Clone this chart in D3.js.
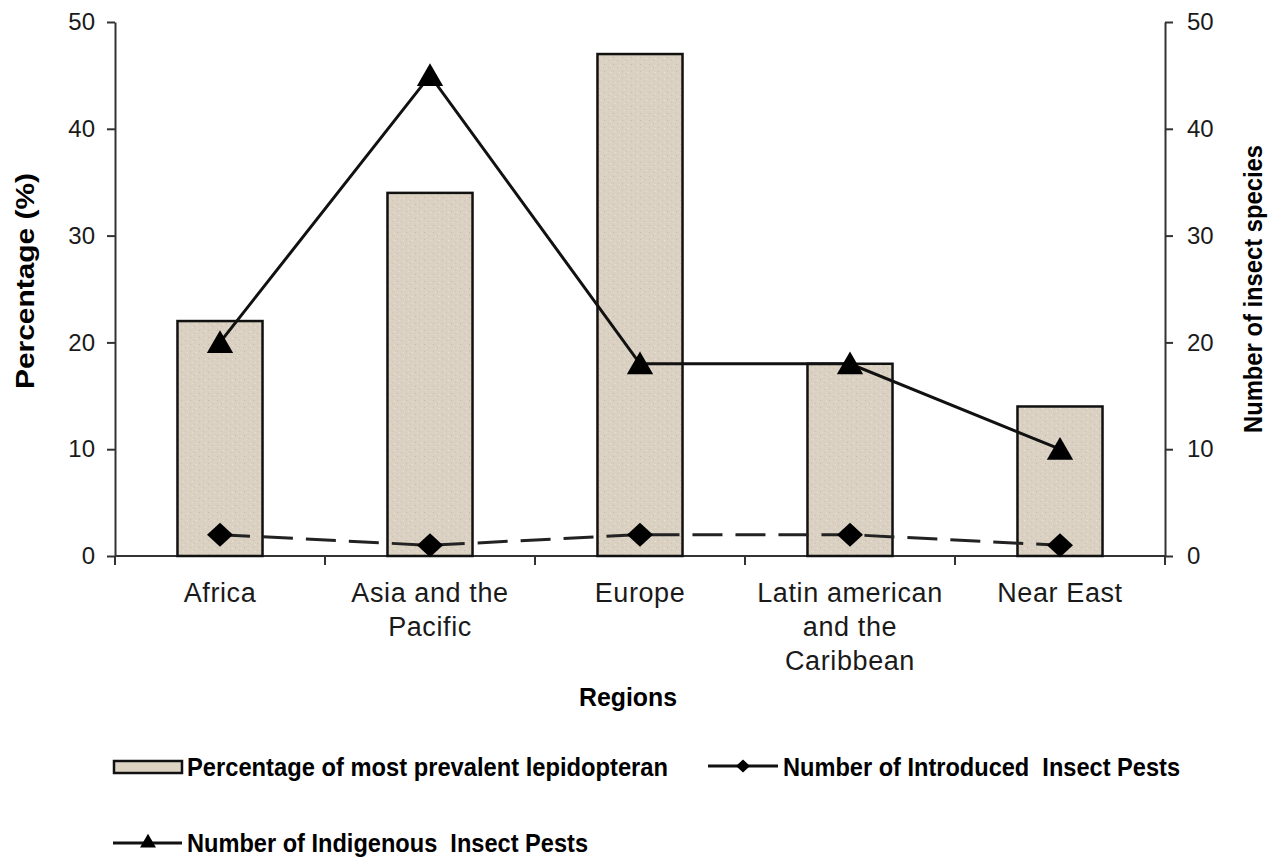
<!DOCTYPE html>
<meta charset="utf-8">
<style>
body { margin: 0; background: #fff; }
svg { display: block; font-family: "Liberation Sans", Arial, sans-serif; }
.tick text { fill: #1a1a1a; font-size: 24px; }
.axis path, .axis line { stroke: #333; stroke-width: 2px; }
.cat { fill: #1a1a1a; font-size: 27px; letter-spacing: 0.6px; }
.title { fill: #000; font-weight: bold; font-size: 25px; white-space: pre; }
.bar { stroke: #111; stroke-width: 2.5px; }
.line-ind { fill: none; stroke: #111; stroke-width: 3px; }
.line-intro { fill: none; stroke: #222; stroke-width: 3px; stroke-dasharray: 30 13; }
</style>
<svg width="1272" height="857"></svg>
<script src="https://d3js.org/d3.v7.min.js"></script>
<script>

var regions = ["Africa", "Asia and the Pacific", "Europe", "Latin american and the Caribbean", "Near East"];
var regionLines = [["Africa"], ["Asia and the", "Pacific"], ["Europe"], ["Latin american", "and the", "Caribbean"], ["Near East"]];
var percentLepidopteran = [22, 34, 47, 18, 14];
var introducedPests = [2, 1, 2, 2, 1];
var indigenousPests = [20, 45, 18, 18, 10];
var yTicks = [0, 10, 20, 30, 40, 50];

var svg = d3.select("svg"),
    plotLeft = 115, plotRight = 1165, plotTop = 22, plotBottom = 556;

var x = d3.scaleBand().domain(regions).range([plotLeft, plotRight]).padding(0),
    y = d3.scaleLinear().domain([0, 50]).range([plotBottom, plotTop]),
    y2 = d3.scaleLinear().domain([0, 50]).range([plotBottom, plotTop]);

// bar texture
var defs = svg.append("defs");
var pat = defs.append("pattern")
    .attr("id", "grain")
    .attr("patternUnits", "userSpaceOnUse")
    .attr("width", 9).attr("height", 7);
pat.append("rect").attr("width", 9).attr("height", 7).attr("fill", "#dad1c2");
pat.append("rect").attr("x", 1).attr("y", 1).attr("width", 1).attr("height", 1).attr("fill", "#c7bcab");
pat.append("rect").attr("x", 5).attr("y", 4).attr("width", 1).attr("height", 1).attr("fill", "#cdc3b3");
pat.append("rect").attr("x", 7).attr("y", 2).attr("width", 1).attr("height", 1).attr("fill", "#e9e3d8");
pat.append("rect").attr("x", 3).attr("y", 5).attr("width", 1).attr("height", 1).attr("fill", "#e6dfd3");

// left axis
svg.append("g")
    .attr("class", "axis")
    .attr("transform", "translate(" + plotLeft + ",0)")
    .call(d3.axisLeft(y).tickValues(yTicks).tickSize(8).tickSizeOuter(0).tickPadding(12));

// right axis
svg.append("g")
    .attr("class", "axis")
    .attr("transform", "translate(" + plotRight + ",0)")
    .call(d3.axisRight(y2).tickValues(yTicks).tickSize(8).tickSizeOuter(0).tickPadding(14));

// bottom axis
var xAxis = svg.append("g").attr("class", "axis");
xAxis.append("path").attr("d", "M" + plotLeft + "," + plotBottom + "H" + plotRight);
xAxis.selectAll(".xt")
    .data(regions.concat([null]))
  .enter().append("line")
    .attr("x1", function(d) { return d === null ? plotRight : x(d); })
    .attr("x2", function(d) { return d === null ? plotRight : x(d); })
    .attr("y1", plotBottom).attr("y2", plotBottom + 9);

svg.selectAll(".cat")
    .data(regionLines)
  .enter().append("text")
    .attr("class", "cat")
    .attr("text-anchor", "middle")
    .attr("x", function(d, i) { return x(regions[i]) + x.bandwidth() / 2; })
    .attr("y", 602)
    .selectAll("tspan")
    .data(function(d) { return d; })
  .enter().append("tspan")
    .attr("x", function() { return d3.select(this.parentNode).attr("x"); })
    .attr("dy", function(d, i) { return i === 0 ? 0 : 34; })
    .text(function(d) { return d; });

// bars
var bw = x.bandwidth() * 0.405;
svg.selectAll(".bar")
    .data(percentLepidopteran)
  .enter().append("rect")
    .attr("class", "bar")
    .attr("fill", "url(#grain)")
    .attr("x", function(d, i) { return x(regions[i]) + (x.bandwidth() - bw) / 2; })
    .attr("y", function(d) { return y(d); })
    .attr("width", bw)
    .attr("height", function(d) { return plotBottom - y(d); });

var cx = function(d, i) { return x(regions[i]) + x.bandwidth() / 2; };

// lines
var line = d3.line().x(cx).y(function(d) { return y2(d); });

svg.append("path").datum(introducedPests).attr("class", "line-intro").attr("d", line);
svg.append("path").datum(indigenousPests).attr("class", "line-ind").attr("d", line);

function diamond(w, h) {
  return "M0," + (-h / 2) + "L" + (w / 2) + ",0L0," + (h / 2) + "L" + (-w / 2) + ",0Z";
}
var triangle = d3.symbol().type(d3.symbolTriangle);

svg.selectAll(".dia")
    .data(introducedPests)
  .enter().append("path")
    .attr("transform", function(d, i) { return "translate(" + cx(d, i) + "," + y2(d) + ")"; })
    .attr("d", diamond(26, 24))
    .attr("fill", "#000");

svg.selectAll(".tri")
    .data(indigenousPests)
  .enter().append("path")
    .attr("transform", function(d, i) { return "translate(" + cx(d, i) + "," + (y2(d) + 3) + ")"; })
    .attr("d", triangle.size(300)())
    .attr("fill", "#000");

// axis titles
svg.append("text")
    .attr("class", "title")
    .attr("transform", "translate(34,281) rotate(-90)")
    .attr("text-anchor", "middle")
    .attr("textLength", 216).attr("lengthAdjust", "spacingAndGlyphs")
    .text("Percentage (%)");

svg.append("text")
    .attr("class", "title")
    .attr("transform", "translate(1262,289) rotate(-90)")
    .attr("text-anchor", "middle")
    .attr("textLength", 288).attr("lengthAdjust", "spacingAndGlyphs")
    .text("Number of insect species");

svg.append("text")
    .attr("class", "title")
    .attr("x", 579).attr("y", 706)
    .attr("textLength", 98).attr("lengthAdjust", "spacingAndGlyphs")
    .text("Regions");

// legend
var lg = svg.append("g");
lg.append("rect")
    .attr("x", 114).attr("y", 761).attr("width", 68).attr("height", 12)
    .attr("fill", "#dcd3c3").attr("stroke", "#111").attr("stroke-width", 2.5);
lg.append("text").attr("class", "title").attr("font-size", "24px")
    .attr("x", 187).attr("y", 776)
    .attr("textLength", 481).attr("lengthAdjust", "spacingAndGlyphs")
    .text("Percentage of most prevalent lepidopteran");

lg.append("line").attr("x1", 708).attr("x2", 778).attr("y1", 766).attr("y2", 766)
    .attr("stroke", "#111").attr("stroke-width", 3);
lg.append("path").attr("transform", "translate(743,766)").attr("d", diamond(14, 13)).attr("fill", "#000");
lg.append("text").attr("class", "title")
    .attr("x", 783).attr("y", 776)
    .attr("textLength", 397).attr("lengthAdjust", "spacingAndGlyphs")
    .text("Number of Introduced  Insect Pests");

lg.append("line").attr("x1", 113).attr("x2", 182).attr("y1", 843).attr("y2", 843)
    .attr("stroke", "#111").attr("stroke-width", 3);
lg.append("path").attr("transform", "translate(148,843)").attr("d", triangle.size(110)()).attr("fill", "#000");
lg.append("text").attr("class", "title")
    .attr("x", 187).attr("y", 852)
    .attr("textLength", 401).attr("lengthAdjust", "spacingAndGlyphs")
    .text("Number of Indigenous  Insect Pests");

</script>
